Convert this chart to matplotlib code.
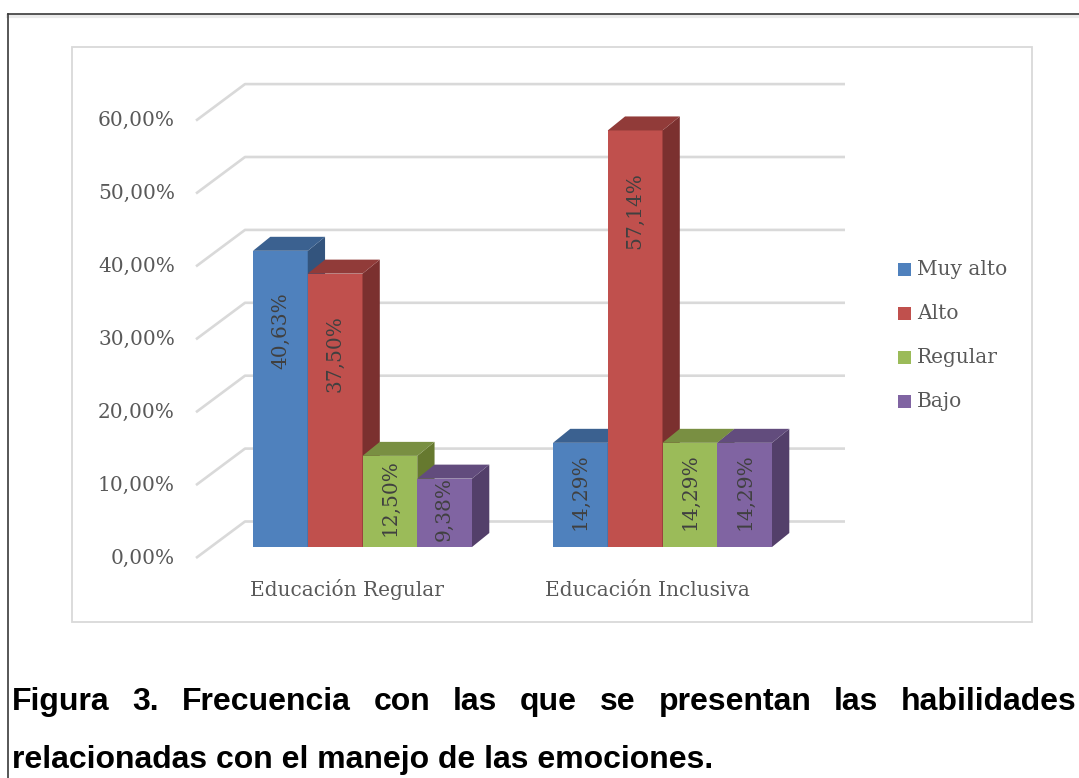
import matplotlib
matplotlib.use('Agg')
import matplotlib.pyplot as plt
from matplotlib.patches import Polygon, Rectangle
from matplotlib.lines import Line2D

# ---------------- data ----------------
categories = ['Educación Regular', 'Educación Inclusiva']
series_names = ['Muy alto', 'Alto', 'Regular', 'Bajo']
muy_alto = [40.63, 14.29]
alto = [37.50, 57.14]
regular = [12.50, 14.29]
bajo = [9.38, 14.29]
y_ticks = [0, 10, 20, 30, 40, 50, 60]
y_tick_labels = ['0,00%', '10,00%', '20,00%', '30,00%', '40,00%', '50,00%', '60,00%']
caption_line1 = 'Figura 3. Frecuencia con las que se presentan las habilidades'
caption_line2 = 'relacionadas con el manejo de las emociones.'

series_values = [muy_alto, alto, regular, bajo]
front_colors = ['#4F81BD', '#C0504D', '#9BBB59', '#8064A2']
top_colors = ['#3B6190', '#913B39', '#798F42', '#624C7D']
side_colors = ['#33547D', '#7B302F', '#66792F', '#533F6A']

# ---------------- layout ----------------
W, H = 1079, 778
fig = plt.figure(figsize=(W / 100, H / 100), dpi=100)
ax = fig.add_axes([0, 0, 1, 1])
PX = 300.0   # pixels per category
PY = 7.29    # pixels per percent
X0 = 196.0   # pixel x of front-left floor corner
Y0 = 558.0   # pixel y (from top) of 0 %
ax.set_xlim(-0.5 - X0 / PX, -0.5 + (W - X0) / PX)
ax.set_ylim(-(H - Y0) / PY, Y0 / PY)
ax.axis('off')


def px2x(px):
    return -0.5 + (px - X0) / PX


def px2y(py):
    return (Y0 - py) / PY


serif = 'DejaVu Serif'
txt_col = '#595959'
fs = 14.5

# wall depth
DX = 49 / PX
DY = 36.5 / PY
# bar placement / depth
BW = 54.75 / PX
FX = 16.5 / PX
FY = 11 / PY
BDX = 17.3 / PX
BDY = 14 / PY

# frames
fig.patches.append(Rectangle((72 / W, 1 - 622 / H), 960 / W, 575 / H, transform=fig.transFigure,
                             fill=False, ec='#D9D9D9', lw=1.3))
fig.lines.append(Line2D([7.5 / W, 1], [1 - 16 / H, 1 - 16 / H], transform=fig.transFigure,
                        color='#EBEBEB', lw=3))
fig.lines.append(Line2D([7.5 / W, 1], [1 - 13.5 / H, 1 - 13.5 / H], transform=fig.transFigure,
                        color='#3A3A3A', lw=1.2))
fig.lines.append(Line2D([7.5 / W, 7.5 / W], [0, 1 - 13.5 / H], transform=fig.transFigure,
                        color='#3A3A3A', lw=1.2))

# gridlines + y tick labels
n_cat = len(categories)
for v, lab in zip(y_ticks, y_tick_labels):
    ax.plot([-0.5, -0.5 + DX, n_cat - 0.5 + DX], [v, v + DY, v + DY],
            color='#D9D9D9', lw=1.9, solid_capstyle='butt', zorder=1)
    ax.text(-0.5 - 21 / PX, v, lab, ha='right', va='center', fontsize=fs,
            family=serif, color=txt_col)

# bars
n_ser = len(series_values)
for i in range(n_cat):
    for j in range(n_ser):
        v = series_values[j][i]
        xl = i - n_ser * BW / 2 + j * BW + FX
        xr = xl + BW
        y0 = FY
        y1 = FY + v
        z = 3 + j
        ax.add_patch(Rectangle((xl, y0), BW, v, fc=front_colors[j], ec='none', zorder=z))
        ax.add_patch(Polygon([(xr, y0), (xr + BDX, y0 + BDY), (xr + BDX, y1 + BDY), (xr, y1)],
                             closed=True, fc=side_colors[j], ec='none', zorder=z))
        ax.add_patch(Polygon([(xl, y1), (xr, y1), (xr + BDX, y1 + BDY), (xl + BDX, y1 + BDY)],
                             closed=True, fc=top_colors[j], ec='none', zorder=z))
        lab_y = v - 11 if v > 25 else v / 2 + 0.5
        ax.text(xl + BW / 2, FY + lab_y, ('%.2f%%' % v).replace('.', ','), rotation=90,
                ha='center', va='center', fontsize=fs, family=serif, color='#404040', zorder=10)

# category labels
for i, c in enumerate(categories):
    ax.text(i + 0.005, px2y(596), c, ha='center', va='baseline', fontsize=fs, family=serif, color=txt_col)

# legend
for k, name in enumerate(series_names):
    yc = 269.5 + 44 * k
    ax.add_patch(Rectangle((px2x(898), px2y(yc + 6.5)), 13 / PX, 13 / PY, fc=front_colors[k], ec='none'))
    ax.text(px2x(917), px2y(yc), name, ha='left', va='center', fontsize=fs, family=serif, color=txt_col)

# caption (justified first line)
cap_font = dict(fontsize=23, family='Liberation Sans', weight='bold', color='black')
fig.canvas.draw()
renderer = fig.canvas.get_renderer()
words = caption_line1.split(' ')
tmp = [ax.text(0, 0, w, **cap_font) for w in words]
widths = [t.get_window_extent(renderer).width for t in tmp]
for t in tmp:
    t.remove()
left_px, right_px = 12.0, 1077.0
gap = (right_px - left_px - sum(widths)) / (len(words) - 1)
xpos = left_px
for w, wd in zip(words, widths):
    ax.text(px2x(xpos), px2y(710), w, ha='left', va='baseline', **cap_font)
    xpos += wd + gap
ax.text(px2x(12), px2y(768), caption_line2, ha='left', va='baseline', **cap_font)

fig.savefig('out.png', dpi=100)
